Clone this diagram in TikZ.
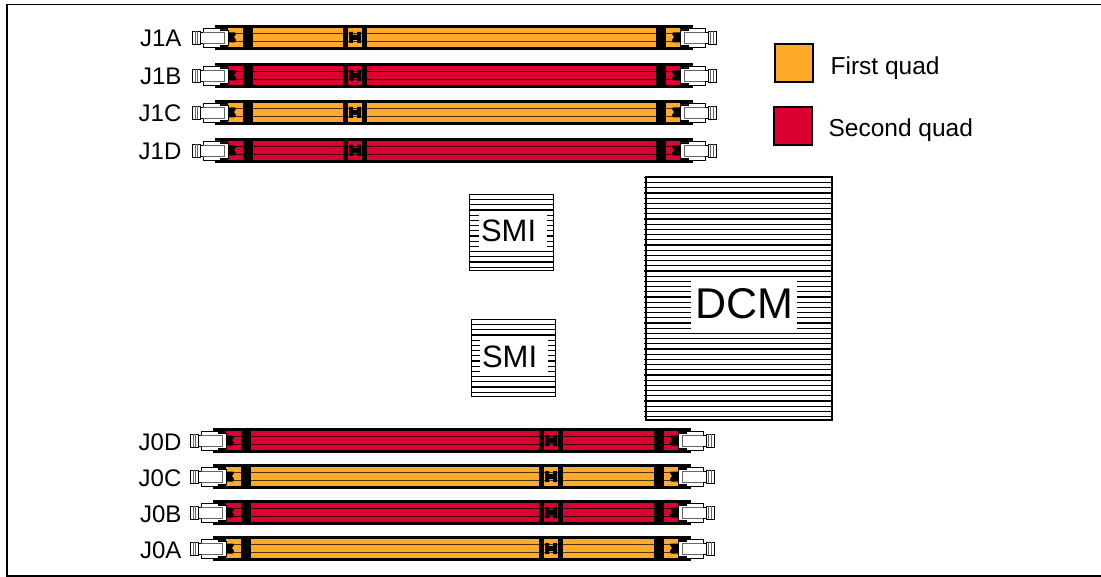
\documentclass[tikz,border=0pt]{standalone}
\usepackage{fontspec}
\setmainfont{Liberation Sans}
\definecolor{quadone}{HTML}{FFAA2B}
\definecolor{quadtwo}{HTML}{DC0032}
\tikzset{
    slotlabel/.style={font=\fontsize{24}{24}\selectfont,inner sep=0pt},
    legendlabel/.style={font=\fontsize{24.5}{24.5}\selectfont,inner sep=0pt},
    chiplabel/.style={fill=white,inner sep=0pt},
    smilabel/.style={chiplabel,font=\fontsize{31}{31}\selectfont,inner xsep=2pt,text width=64pt,align=left,minimum height=38pt},
    latchline/.style={line width=0.8pt,draw=black}
}
\begin{document}
\begin{tikzpicture}[x=1pt,y=-1pt,line width=1.2pt]
    \useasboundingbox (0,0) rectangle (1101,577);
    \draw (1101,4.5) -- (7,4.5) -- (7,576) -- (1101,576);
    % memory slots
    \foreach \slotname/\slotcol/\ypos/\xpos/\clipx in {%
        J1A/quadone/38/0/343,J1B/quadtwo/76/0/343,J1C/quadone/113/0/343,J1D/quadtwo/151/0/343,%
        J0D/quadtwo/441/-2/541,J0C/quadone/477/-2/541,J0B/quadtwo/513/-2/541,J0A/quadone/549/-2/541}{
        \begin{scope}[shift={(\xpos,\ypos)}]
            % body
            \fill[black] (215,-13) rectangle (693,12);
            \fill[\slotcol] (228,-10) rectangle (680,9);
            \draw[line width=1pt,black!70!\slotcol] (228,-4.5) -- (680,-4.5);
            \draw[line width=1pt,black!70!\slotcol] (228,3.5) -- (680,3.5);
            \fill[black] (243,-12) rectangle (252.5,11);
            \fill[black] (656,-12) rectangle (666,11);
            % end clips
            \fill[black] (228,-5.5) -- (235,-5.5) -- (236,-4) -- (234,-1) -- (236,2) -- (235,4.5) -- (228,4.5) -- cycle;
            \fill[black] (680,-5.5) -- (673,-5.5) -- (672,-4) -- (674,-1) -- (672,2) -- (673,4.5) -- (680,4.5) -- cycle;
            % middle clip
            \begin{scope}[shift={(\clipx-343,0)}]
                \fill[black] (343,-12) rectangle (348,11);
                \fill[black] (362,-12) rectangle (367,11);
                \fill[black] (349,-6) -- (353,-6) -- (353,-3) -- (357,-3) -- (357,-6) -- (361,-6) -- (361,5) -- (357,5) -- (357,2) -- (353,2) -- (353,5) -- (349,5) -- cycle;
            \end{scope}
            % left latch
            \filldraw[latchline,fill=white] (200,-6) -- (203,-6) -- (203,-10) -- (220,-10) -- (220,-8) -- (228,-8) -- (228,7) -- (220,7) -- (220,9) -- (203,9) -- (203,5) -- (200,5) -- cycle;
            \filldraw[latchline,fill=white] (192,-7) rectangle (200,6);
            \draw[latchline,black!60] (195,-7) -- (195,6) (197.5,-7) -- (197.5,6);
            \draw[latchline,black!60] (203,-6) -- (224,-6) -- (224,5) -- (203,5);
            % right latch
            \filldraw[latchline,fill=white] (708,-6) -- (705,-6) -- (705,-10) -- (688,-10) -- (688,-8) -- (680,-8) -- (680,7) -- (688,7) -- (688,9) -- (705,9) -- (705,5) -- (708,5) -- cycle;
            \filldraw[latchline,fill=white] (716,-7) rectangle (708,6);
            \draw[latchline,black!60] (713,-7) -- (713,6) (710.5,-7) -- (710.5,6);
            \draw[latchline,black!60] (705,-6) -- (684,-6) -- (684,5) -- (705,5);
        \end{scope}
        \node[slotlabel,anchor=base east] (\slotname) at (182,\ypos+9) {\slotname};
    }
    % legend
    \filldraw[fill=quadone,draw=black] (775,44) rectangle (813,82);
    \filldraw[fill=quadtwo,draw=black] (774,107) rectangle (812,145);
    \node[legendlabel,anchor=base west] (firstquad) at (830,75) {First quad};
    \node[legendlabel,anchor=base west] (secondquad) at (828,137) {Second quad};
    % chips
    \draw (469.5,194.5) rectangle (553.5,270.5);
    \foreach \ystripe in {194.5,199.7,...,270}{
        \draw (469,\ystripe) -- (553,\ystripe);
    }
    \draw (471.5,319.5) rectangle (555.5,396.5);
    \foreach \ystripe in {319.5,324.7,...,396}{
        \draw (471,\ystripe) -- (555,\ystripe);
    }
    \draw[line width=2pt] (645.5,177.5) rectangle (831.5,419.5);
    \foreach \ystripe in {177.5,182.7,...,419}{
        \draw (644,\ystripe) -- (831,\ystripe);
    }
    \node[smilabel] (smitop) at (513,231) {SMI};
    \node[smilabel] (smibottom) at (514,357) {SMI};
    \node[chiplabel,font=\fontsize{43}{43}\selectfont,minimum width=106pt,minimum height=52pt] (dcm) at (744,304) {DCM};
\end{tikzpicture}
\end{document}
